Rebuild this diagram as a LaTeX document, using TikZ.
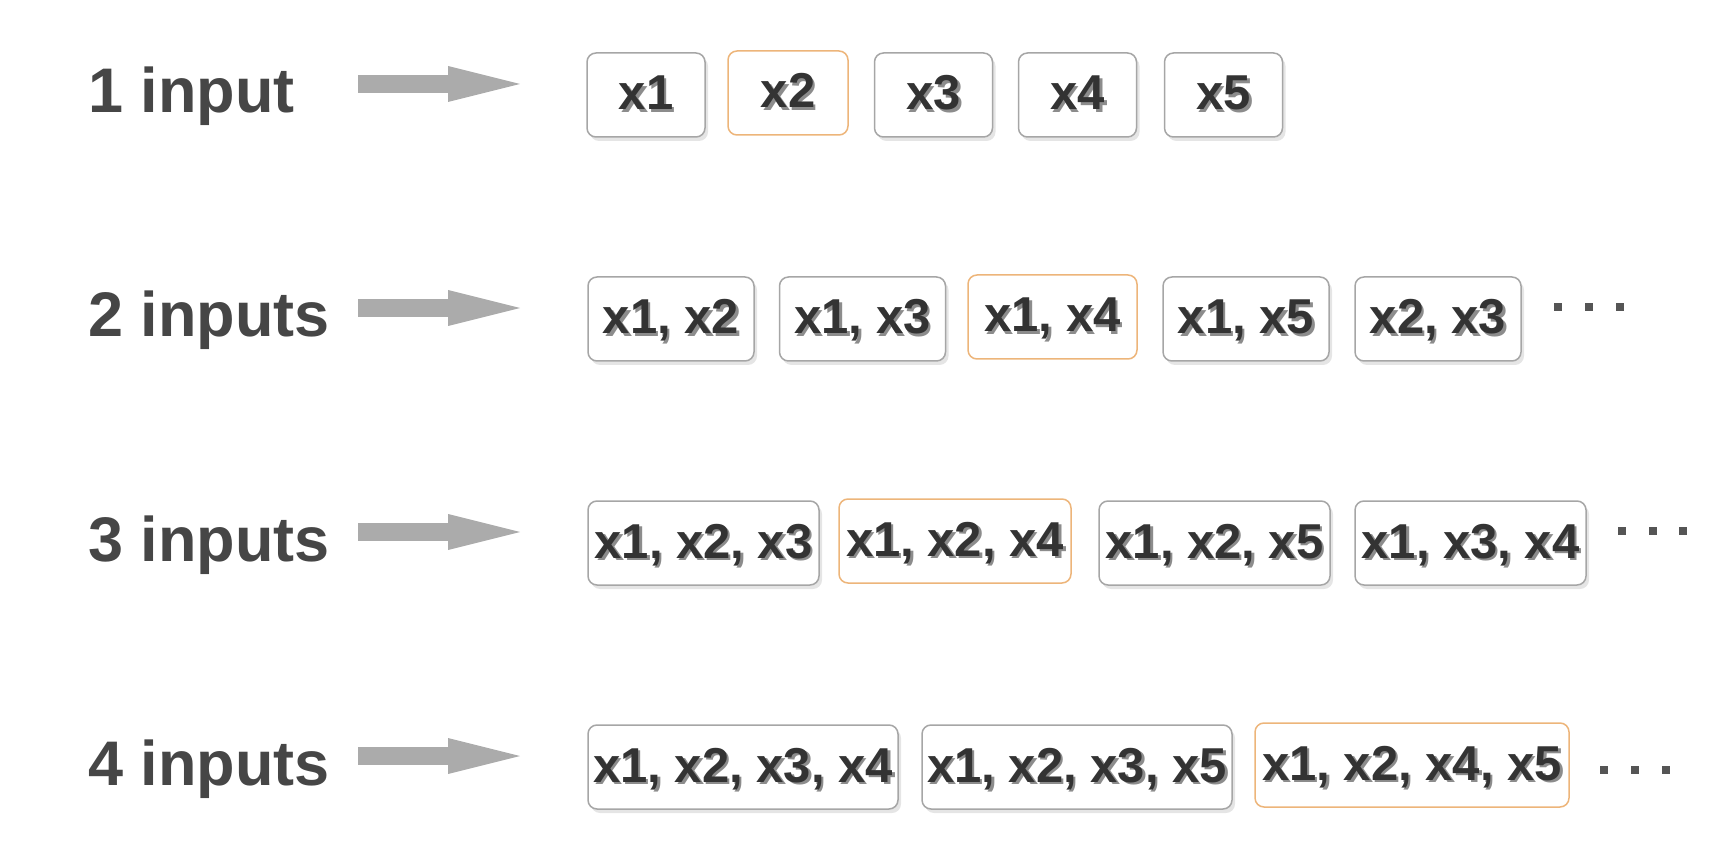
\documentclass[tikz,border=0pt]{standalone}
\usepackage{fontspec}
\setmainfont{Liberation Sans}
\usetikzlibrary{arrows.meta,shadows}
\definecolor{lbl}{HTML}{464646}
\definecolor{arr}{HTML}{ABABAB}
\definecolor{boxtxt}{HTML}{333333}
\definecolor{orng}{HTML}{EDB57A}
\definecolor{dotc}{HTML}{555555}
\newcommand{\shtxt}[1]{\makebox[0pt][l]{\kern2.5pt\raisebox{-2.5pt}{\textcolor{black!45}{#1}}}#1}
\begin{document}
\begin{tikzpicture}[x=1pt,y=-1pt,
  rowlabel/.style={anchor=base west, font=\fontsize{63}{70}\selectfont\bfseries, text=lbl, inner sep=0pt},
  flow/.style={draw=arr, line width=18pt, -{Triangle[length=72pt,width=36pt,line width=0pt]}},
  cellbase/.style={rounded corners=9pt, fill=white, line width=1.5pt, inner sep=0pt,
    minimum height=84pt, text height=36pt, text depth=6pt,
    font=\fontsize{49}{55}\selectfont\bfseries, text=boxtxt},
  cell/.style={cellbase, draw=black!35, minimum width=#1,
    drop shadow={shadow xshift=3pt, shadow yshift=-4pt, fill=black!20}},
  pick/.style={cellbase, draw=orng, minimum width=#1},
  dotsq/.style={fill=dotc, minimum size=8pt, inner sep=0pt}
]
\useasboundingbox (0,0) rectangle (1732,858);

% row labels
\node[rowlabel] (l1) at (88,113) {1 input};
\node[rowlabel] (l2) at (88,337) {2 inputs};
\node[rowlabel] (l3) at (88,561) {3 inputs};
\node[rowlabel] (l4) at (88,785) {4 inputs};

% arrows
\coordinate (s1) at (358,84);  \coordinate (e1) at (520,84);
\coordinate (s2) at (358,308); \coordinate (e2) at (520,308);
\coordinate (s3) at (358,532); \coordinate (e3) at (520,532);
\coordinate (s4) at (358,756); \coordinate (e4) at (520,756);
\draw[flow] (s1) -- (e1);
\draw[flow] (s2) -- (e2);
\draw[flow] (s3) -- (e3);
\draw[flow] (s4) -- (e4);

% row 1
\node[cell=118pt] (r1a) at (646,95) {\shtxt{x1}};
\node[pick=120pt] (r1b) at (788,93) {\shtxt{x2}};
\node[cell=118pt] (r1c) at (933.5,95) {\shtxt{x3}};
\node[cell=118pt] (r1d) at (1077.5,95) {\shtxt{x4}};
\node[cell=118pt] (r1e) at (1223.5,95) {\shtxt{x5}};

% row 2
\node[cell=166pt] (r2a) at (671,319) {\shtxt{x1, x2}};
\node[cell=166pt] (r2b) at (862.5,319) {\shtxt{x1, x3}};
\node[pick=169pt] (r2c) at (1052.5,317) {\shtxt{x1, x4}};
\node[cell=166pt] (r2d) at (1246,319) {\shtxt{x1, x5}};
\node[cell=166pt] (r2e) at (1438,319) {\shtxt{x2, x3}};
\node[dotsq] (d2a) at (1558,307) {};
\node[dotsq] (d2b) at (1589,307) {};
\node[dotsq] (d2c) at (1620,307) {};

% row 3
\node[cell=231pt] (r3a) at (703.5,543) {\shtxt{x1, x2, x3}};
\node[pick=232pt] (r3b) at (955,541) {\shtxt{x1, x2, x4}};
\node[cell=231pt] (r3c) at (1214.5,543) {\shtxt{x1, x2, x5}};
\node[cell=231pt] (r3d) at (1470.5,543) {\shtxt{x1, x3, x4}};
\node[dotsq] (d3a) at (1622,531) {};
\node[dotsq] (d3b) at (1653,531) {};
\node[dotsq] (d3c) at (1683,531) {};

% row 4
\node[cell=310pt] (r4a) at (743,767) {\shtxt{x1, x2, x3, x4}};
\node[cell=310pt] (r4b) at (1077,767) {\shtxt{x1, x2, x3, x5}};
\node[pick=314pt] (r4c) at (1412,765) {\shtxt{x1, x2, x4, x5}};
\node[dotsq] (d4a) at (1604,770) {};
\node[dotsq] (d4b) at (1635,770) {};
\node[dotsq] (d4c) at (1666,770) {};
\end{tikzpicture}
\end{document}
